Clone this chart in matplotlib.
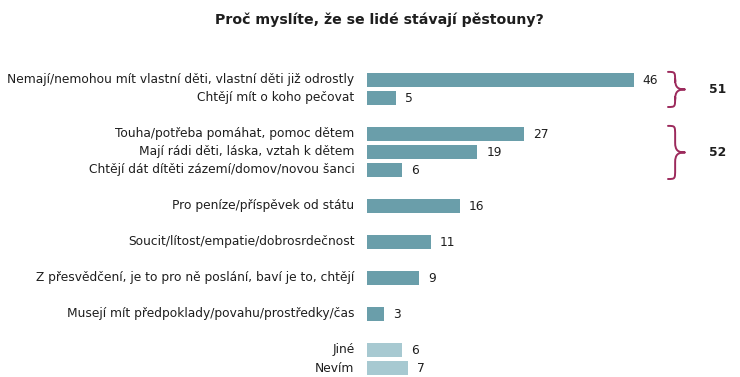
import matplotlib
matplotlib.use("Agg")
import matplotlib.pyplot as plt
from matplotlib.path import Path
from matplotlib.patches import PathPatch

title = "Proč myslíte, že se lidé stávají pěstouny?"
categories = [
    "Nemají/nemohou mít vlastní děti, vlastní děti již odrostly",
    "Chtějí mít o koho pečovat",
    "Touha/potřeba pomáhat, pomoc dětem",
    "Mají rádi děti, láska, vztah k dětem",
    "Chtějí dát dítěti zázemí/domov/novou šanci",
    "Pro peníze/příspěvek od státu",
    "Soucit/lítost/empatie/dobrosrdečnost",
    "Z přesvědčení, je to pro ně poslání, baví je to, chtějí",
    "Musejí mít předpoklady/povahu/prostředky/čas",
    "Jiné",
    "Nevím",
]
values = [46, 5, 27, 19, 6, 16, 11, 9, 3, 6, 7]
slots = [0, 1, 3, 4, 5, 7, 9, 11, 13, 15, 16]
light = [False] * 9 + [True, True]
groups = [(0, 1, 51), (2, 4, 52)]  # index ranges and totals

dark_col = "#6A9EAA"
light_col = "#A7C9D1"
brace_col = "#9C2A5C"
text_col = "#1E1E1E"

fig = plt.figure(figsize=(7.4, 3.77), dpi=100)
W, H = 740, 377
left_px, top_px = 367, 71
ax = fig.add_axes([left_px / W, 0, (W - left_px) / W, (H - top_px) / H])
ppu = 5.8
ax.set_xlim(0, (W - left_px) / ppu)
ax.set_ylim(16.5, -0.5)
ax.axis("off")

fs = 8.8
cols = [light_col if l else dark_col for l in light]
ax.barh(slots, values, height=0.74, color=cols)
for s, v, c in zip(slots, values, categories):
    ax.annotate(str(v), (v, s), xytext=(6.5, 0), textcoords="offset points",
                va="center", ha="left", fontsize=fs, color=text_col)
    ax.annotate(c, (0, s), xytext=(-9, 0), textcoords="offset points",
                va="center", ha="right", fontsize=fs, color=text_col,
                annotation_clip=False)

def brace(ax, x0, w, y0, y1, r=0.55):
    xm = x0 + w * 0.42
    xt = x0 + w
    ym = (y0 + y1) / 2
    verts = [
        (x0, y0),
        (xm, y0), (xm, y0), (xm, y0 + r),
        (xm, ym - r),
        (xm, ym - r * 0.2), (xm + (xt - xm) * 0.3, ym), (xt, ym),
        (xm + (xt - xm) * 0.3, ym), (xm, ym + r * 0.2), (xm, ym + r),
        (xm, y1 - r),
        (xm, y1), (xm, y1), (x0, y1),
    ]
    codes = [Path.MOVETO,
             Path.CURVE4, Path.CURVE4, Path.CURVE4,
             Path.LINETO,
             Path.CURVE4, Path.CURVE4, Path.CURVE4,
             Path.CURVE4, Path.CURVE4, Path.CURVE4,
             Path.LINETO,
             Path.CURVE4, Path.CURVE4, Path.CURVE4]
    ax.add_patch(PathPatch(Path(verts, codes), fill=False, edgecolor=brace_col,
                           lw=1.4, capstyle="round", joinstyle="round",
                           clip_on=False))
    return ym

bx0 = (668 - left_px) / ppu
bw = 17 / ppu
tx = (718 - left_px) / ppu
for i0, i1, tot in groups:
    ym = brace(ax, bx0, bw, slots[i0] - 0.45, slots[i1] + 0.5)
    ax.text(tx, ym, str(tot), ha="center", va="center", fontsize=fs,
            fontweight="bold", color=text_col)

fig.text(379 / W, 1 - 20 / H, title, ha="center", va="center", fontsize=10.2,
         fontweight="bold", color=text_col)

fig.savefig("out.png", dpi=100)
